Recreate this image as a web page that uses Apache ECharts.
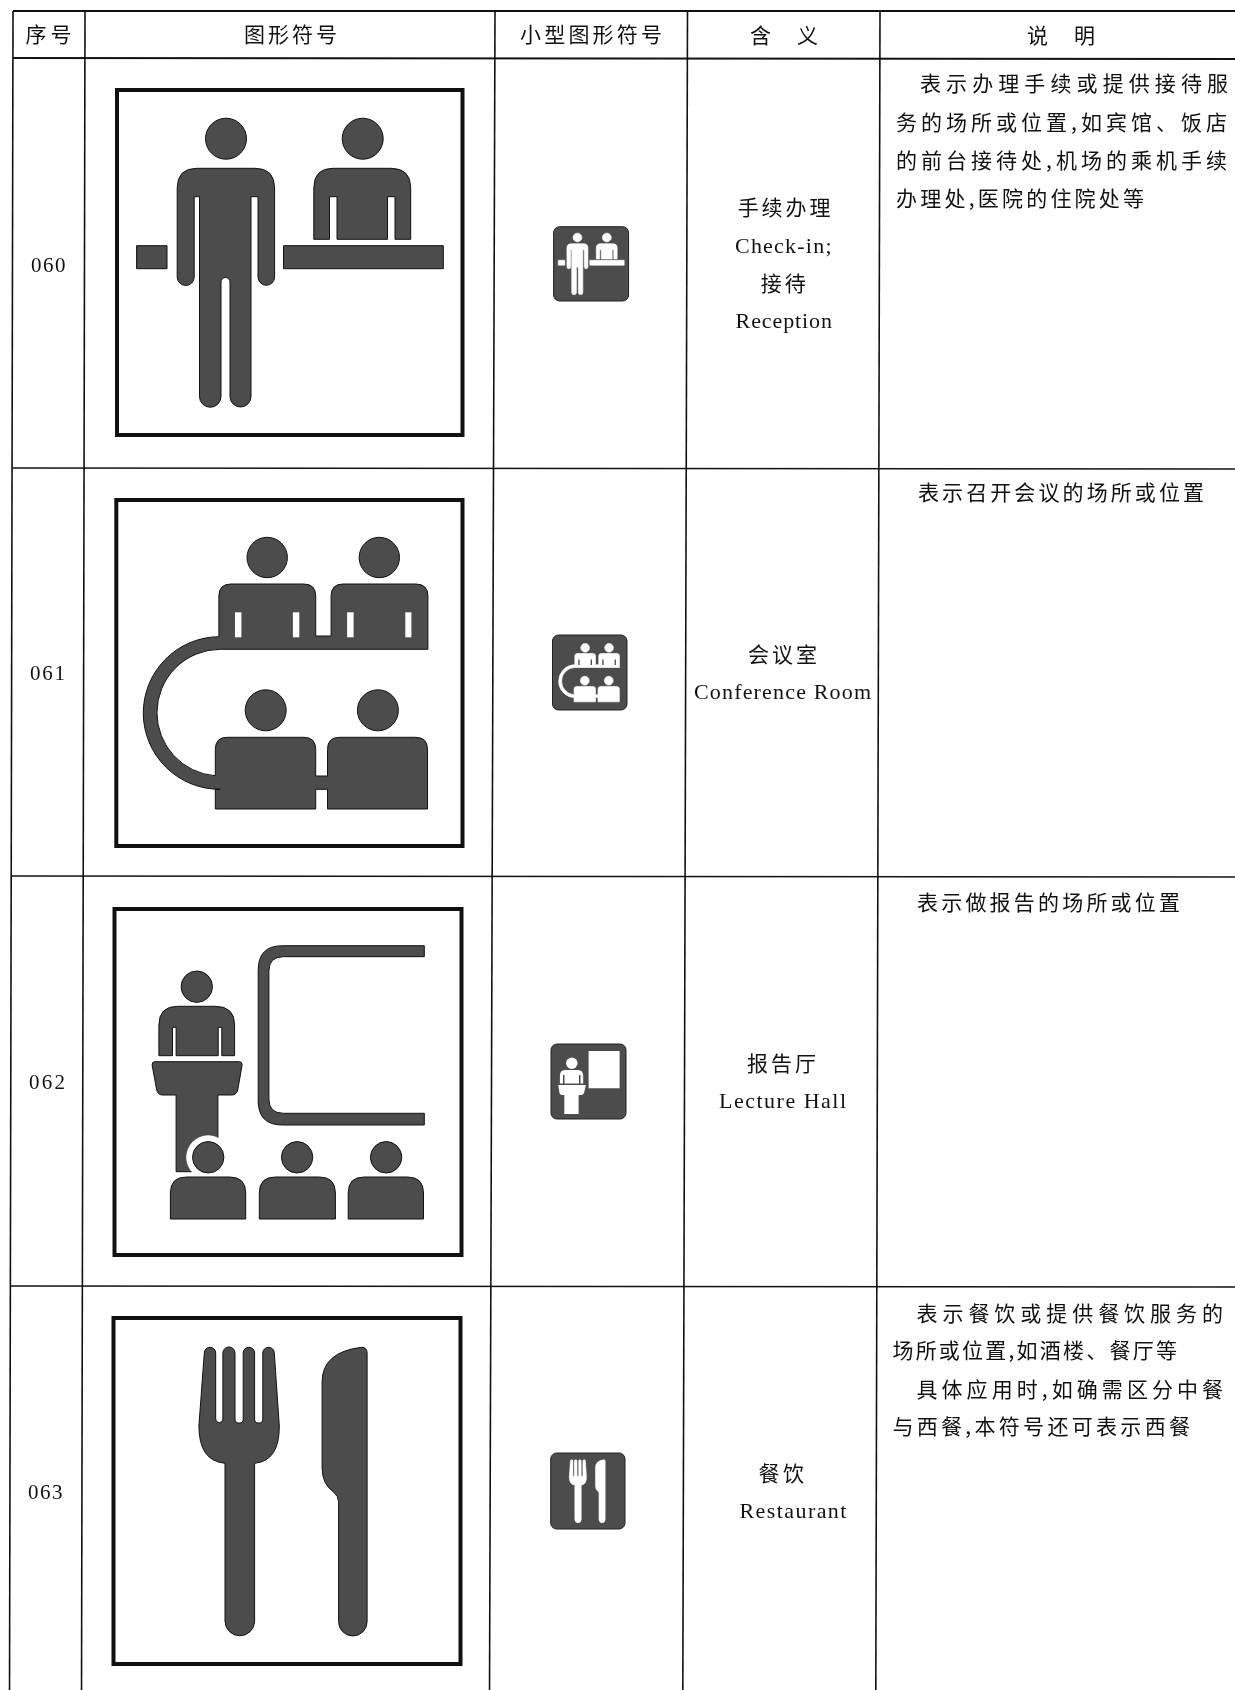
<!DOCTYPE html>
<html lang="zh">
<head>
<meta charset="utf-8">
<style>html,body{margin:0;padding:0;background:#fff}#main{width:1235px;height:1690px}</style>
<script src="https://cdn.jsdelivr.net/npm/echarts@6/dist/echarts.min.js"></script>
</head>
<body>
<div id="main"></div>
<script>
// ---------- table content ----------
const headers = ['序号', '图形符号', '小型图形符号', '含 义', '说 明'];
const serials = ['060', '061', '062', '063'];
const meanings = [
  ['手续办理', 'Check-in;', '接待', 'Reception'],
  ['会议室', 'Conference Room'],
  ['报告厅', 'Lecture Hall'],
  ['餐饮', 'Restaurant']
];
const notes = [
  ['表示办理手续或提供接待服', '务的场所或位置,如宾馆、饭店', '的前台接待处,机场的乘机手续', '办理处,医院的住院处等'],
  ['表示召开会议的场所或位置'],
  ['表示做报告的场所或位置'],
  ['表示餐饮或提供餐饮服务的', '场所或位置,如酒楼、餐厅等', '具体应用时,如确需区分中餐', '与西餐,本符号还可表示西餐']
];

// ---------- ruling of the scanned table: [x1, y1, x2, y2, width] ----------
const ruleRows = [
  [13, 11, 1235, 11, 2.2], [13, 58, 1235, 59, 2.2], [13, 468, 1235, 469, 1.6],
  [12, 876, 1235, 877, 1.6], [11, 1286, 1235, 1287, 1.6]
];
const ruleCols = [
  [13, 11, 9.5, 1690, 1.6], [85, 11, 81.5, 1690, 1.6], [495, 11, 489.5, 1690, 1.6],
  [687.5, 11, 682.8, 1690, 1.6], [880, 11, 875.8, 1690, 1.6]
];

// ---------- text placement: [x start, x end, y centre] ----------
const headerPos = [[25.4, 71.4, 34], [244, 337, 34], [520, 662, 34], [750, 818, 35], [1027, 1095, 35]];
const serialPos = [[31, 65.6, 266], [30, 65, 674.6], [29, 65, 1083], [28, 62.5, 1493.6]];
const meaningPos = [
  [[737.7, 830.4, 207], [735, 831.5, 247], [760.7, 805.7, 283], [735.6, 832, 322]],
  [[748, 817, 654], [694, 871, 693]],
  [[747, 816, 1062.6], [719, 846, 1102]],
  [[758.6, 804, 1472.7], [739.5, 846.4, 1512]]
];
const notePos = [
  [[920, 1228, 83], [896, 1227, 121.7], [896, 1227, 160], [896, 1144, 198]],
  [[918, 1204, 492.5]],
  [[917, 1180, 902]],
  [[916.5, 1223, 1313], [892.4, 1177, 1350], [916.5, 1223, 1389], [892.4, 1190, 1425.7]]
];

// ---------- pictograms, drawn in a 349-unit sign box ----------
const circle = (cx, cy, r) => `M${cx - r} ${cy}A${r} ${r} 0 1 1 ${cx + r} ${cy}A${r} ${r} 0 1 1 ${cx - r} ${cy}Z`;
const bust = (a, b, t, bot, r) => `M${a} ${bot}L${a} ${t + r}Q${a} ${t} ${a + r} ${t}L${b - r} ${t}Q${b} ${t} ${b} ${t + r}L${b} ${bot}Z`;
const rect = (a, t, b, bot) => `M${a} ${t}L${b} ${t}L${b} ${bot}L${a} ${bot}Z`;

const signCheckIn = [
  {d: circle(111, 50.7, 20.5)}, {d: circle(247.7, 50.7, 20.5)},
  {d: 'M62.2 100Q62.2 80.3 82 80.3L140 80.3Q159.6 80.3 159.6 100L159.6 189A8.3 8.3 0 0 1 143 189L143 108.7L136 108.7L136 308.5A10.5 10.5 0 0 1 115 308.5L115 194A4.5 4.5 0 0 0 106 194L106 308.5A10.75 10.75 0 0 1 84.5 308.5L84.5 108.7L79.2 108.7L79.2 189A8.5 8.5 0 0 1 62.2 189Z'},
  {d: 'M198.8 100Q198.8 80.3 218 80.3L276 80.3Q295.7 80.3 295.7 100L295.7 151.3L280 151.3L280 108.7L272.5 108.7L272.5 151.3L222 151.3L222 108.7L214.5 108.7L214.5 151.3L198.8 151.3Z'},
  {d: rect(21.6, 157.7, 52, 180.7)}, {d: rect(168.5, 157.7, 328.3, 180.7)}
];
const slit = (a, b) => rect(a, 114.3, b, 139.3);
const signConference = [
  {d: circle(152.9, 59.5, 20.2)}, {d: circle(265, 59.5, 20.2)},
  {d: circle(151.4, 212.3, 20.5)}, {d: circle(263.6, 212.3, 20.5)},
  {d: 'M104.6 98Q104.6 86 116.6 86L189.4 86Q201.4 86 201.4 98L201.4 138L216.8 138L216.8 98Q216.8 86 228.8 86L301.6 86Q313.6 86 313.6 98L313.6 151.3L106 151.3A63.35 63.35 0 0 0 101 277.8L101 251.3Q101 239.3 113 239.3L189.4 239.3Q201.4 239.3 201.4 251.3L201.4 278L213.2 278L213.2 251.3Q213.2 239.3 225.2 239.3L301.2 239.3Q313.2 239.3 313.2 251.3L313.2 311L213.2 311L213.2 291.3L201.4 291.3L201.4 311L101 311L101 291.2L106 291.3A76.3 76.3 0 0 1 104.6 138.7Z'},
  {d: slit(120.7, 127.1), cut: 1}, {d: slit(178.6, 185), cut: 1},
  {d: slit(232.8, 239.3), cut: 1}, {d: slit(291, 297.1), cut: 1}
];
const signLecture = [
  {d: 'M311.8 38.7L170 38.7Q145.7 38.7 145.7 63L145.7 194Q145.7 218 170 218L311.8 218L311.8 206.3L171 206.3Q156.4 206.3 156.4 192L156.4 64Q156.4 49.7 171 49.7L311.8 49.7Z'},
  {d: circle(84.3, 79.7, 15.7)},
  {d: 'M46.4 118Q46.4 99.3 65 99.3L103 99.3Q122.1 99.3 122.1 118L122.1 148.7L109.3 148.7L109.3 120.3L105.7 120.3L105.7 148.7L63.6 148.7L63.6 120.3L60 120.3L60 148.7L46.4 148.7Z'},
  {d: 'M42 154.7L127 154.7Q129.6 154.7 129.6 158L125.4 182Q124.5 188 119 188L105.4 188L105.4 264.7L63.6 264.7L63.6 188L50 188Q45 188 44 182L39.6 158Q39.6 154.7 42 154.7Z'},
  {d: circle(95.7, 250.3, 22), cut: 1},
  {d: circle(95.7, 250.3, 15.7)}, {d: circle(184.6, 250.3, 15.7)}, {d: circle(273.6, 250.3, 15.7)},
  {d: bust(57.9, 133.2, 270, 312, 16)}, {d: bust(146.8, 222.9, 270, 312, 16)}, {d: bust(235.7, 311, 270, 312, 16)}
];
const signRestaurant = [
  {d: 'M92.8 37A5.7 5.7 0 0 1 104.2 37L104.2 103A3.6 3.6 0 0 0 111.4 103L111.4 37A6 6 0 0 1 123.5 37L123.5 103A4.1 4.1 0 0 0 131.7 103L131.7 37A5.7 5.7 0 0 1 143.1 37L143.1 103A4.1 4.1 0 0 0 151.3 103L151.3 37A5.75 5.75 0 0 1 162.8 37L167.8 110Q168 145 143.1 147.3L143.1 305A14.8 14.8 0 0 1 113.5 305L113.5 147.3Q87.4 145 87.4 110Z'},
  {d: 'M250 31.3Q255.6 31.3 255.6 37L255.6 305.7A14.25 14.25 0 0 1 227.1 305.7L227.1 186Q227 180 222 176Q210.6 168 210.6 152L210.6 66Q210.6 36 250 31.3Z'}
];
// the small lecture-hall sign has its own drawing, in a 75-unit box
const smallLecture = [
  {d: rect(37.6, 7, 68.6, 44.3)},
  {d: circle(20.8, 19.3, 5.7)},
  {d: 'M8.9 32Q8.9 26 14 26L27 26Q32.2 26 32.2 32L32.2 39.5L29.5 39.5L29.5 31L28 31L28 39.5L13.5 39.5L13.5 31L12 31L12 39.5L8.9 39.5Z'},
  {d: 'M7.2 41L34.9 41L33 49Q32.5 51 30 51L27.6 51L27.6 70L13.3 70L13.3 51L11 51Q9 51 8.5 49Z'}
];
const signParts = [signCheckIn, signConference, signLecture, signRestaurant];
const smallParts = [signCheckIn, signConference, smallLecture, signRestaurant];
const smallUnits = [349, 349, 75, 349];

// sign boxes: [left, top, right, bottom]
const signBoxes = [[115, 88, 464.5, 437], [114.3, 498, 464.5, 848], [112.5, 907, 463.5, 1257], [111.5, 1316, 462.5, 1666]];
const smallBoxes = [[553.6, 226.7, 628.6, 301], [552.5, 635, 627, 710], [551, 1044, 626, 1119], [550.7, 1453, 625, 1529]];

// ---------- style ----------
const INK = '#111111', SCREEN = '#4c4c4c';
const CJK = '"Noto Sans CJK SC"', LATIN = '"Liberation Serif","Noto Sans CJK SC"';

// ---------- assemble text items; tracking fits every line to its printed width ----------
const probe = document.createElement('canvas').getContext('2d');
const tracking = new Map();
const textItems = [];
function addText(text, pos, family, size) {
  const font = `${size}px ${family}`;
  probe.font = font;
  const gaps = Math.max(1, [...text].length - 1);
  tracking.set(text, (pos[1] - pos[0] - probe.measureText(text).width) / gaps);
  textItems.push({text, x: pos[0], y: pos[2], font});
}
headers.forEach((t, i) => addText(t, headerPos[i], CJK, 21));
serials.forEach((t, i) => addText(t, serialPos[i], LATIN, 21));
meanings.forEach((rows, i) => rows.forEach((t, j) =>
  addText(t, meaningPos[i][j], /[A-Za-z]/.test(t) ? LATIN : CJK, /[A-Za-z]/.test(t) ? 22 : 21)));
notes.forEach((rows, i) => rows.forEach((t, j) => addText(t, notePos[i][j], CJK, 21)));

// canvas letter spacing per printed line
const nativeFillText = CanvasRenderingContext2D.prototype.fillText;
CanvasRenderingContext2D.prototype.fillText = function (t, x, y) {
  this.letterSpacing = (tracking.get(t) || 0).toFixed(2) + 'px';
  return nativeFillText.call(this, t, x, y);
};

// ---------- chart ----------
const rules = ruleRows.concat(ruleCols);
const signs = signBoxes.map((b, i) => ({box: b, parts: signParts[i], unit: 0, small: false}))
  .concat(smallBoxes.map((b, i) => ({box: b, parts: smallParts[i], unit: smallUnits[i], small: true})));

function renderRule(params, api) {
  const a = api.coord([api.value(0), api.value(1)]);
  const b = api.coord([api.value(2), api.value(3)]);
  return {type: 'line', shape: {x1: a[0], y1: a[1], x2: b[0], y2: b[1]},
    style: {stroke: INK, lineWidth: api.value(4)}};
}
function renderText(params, api) {
  const p = api.coord([api.value(0), api.value(1)]);
  const item = textItems[params.dataIndex];
  return {type: 'text', style: {x: p[0], y: p[1], text: item.text, font: item.font, fill: INK,
    align: 'left', verticalAlign: 'middle'}};
}
function renderSign(params, api) {
  const s = signs[params.dataIndex];
  const p0 = api.coord([api.value(0), api.value(1)]);
  const p1 = api.coord([api.value(2), api.value(3)]);
  const w = p1[0] - p0[0], h = p1[1] - p0[1];
  const sx = s.small ? w / s.unit : 1, sy = s.small ? h / s.unit : 1;
  const ground = s.small ? SCREEN : '#ffffff';
  const ink = s.small ? '#ffffff' : SCREEN;
  const children = [];
  if (s.small) {
    children.push({type: 'rect', shape: {x: 0, y: 0, width: w, height: h, r: 6},
      style: {fill: SCREEN, stroke: '#222222', lineWidth: 1}});
  } else {
    children.push({type: 'rect', shape: {x: 2, y: 2, width: w - 4, height: h - 4},
      style: {fill: '#ffffff', stroke: INK, lineWidth: 4}});
  }
  const art = s.parts.map(part => ({
    type: 'path', shape: {pathData: part.d},
    style: {
      fill: part.cut ? ground : ink,
      stroke: part.cut ? null : (s.small ? (s.unit === 349 ? '#ffffff' : null) : INK),
      lineWidth: s.small ? 3 : 1
    }
  }));
  children.push({type: 'group', scaleX: sx, scaleY: sy, children: art});
  return {type: 'group', x: p0[0], y: p0[1], children};
}

const chart = echarts.init(document.getElementById('main'), null, {renderer: 'canvas', width: 1235, height: 1690});
chart.setOption({
  animation: false,
  backgroundColor: '#ffffff',
  grid: {left: 0, right: 0, top: 0, bottom: 0},
  xAxis: {type: 'value', min: 0, max: 1235, show: false},
  yAxis: {type: 'value', min: 0, max: 1690, inverse: true, show: false},
  tooltip: {show: false},
  series: [
    {type: 'custom', name: 'rules', coordinateSystem: 'cartesian2d', renderItem: renderRule,
      silent: true, encode: {x: [0, 2], y: [1, 3]}, data: rules, z: 1},
    {type: 'custom', name: 'signs', coordinateSystem: 'cartesian2d', renderItem: renderSign,
      silent: true, encode: {x: [0, 2], y: [1, 3]}, data: signs.map(s => s.box), z: 2},
    {type: 'custom', name: 'text', coordinateSystem: 'cartesian2d', renderItem: renderText,
      silent: true, encode: {x: 0, y: 1}, data: textItems.map(t => [t.x, t.y]), z: 3}
  ]
});
</script>
</body>
</html>
